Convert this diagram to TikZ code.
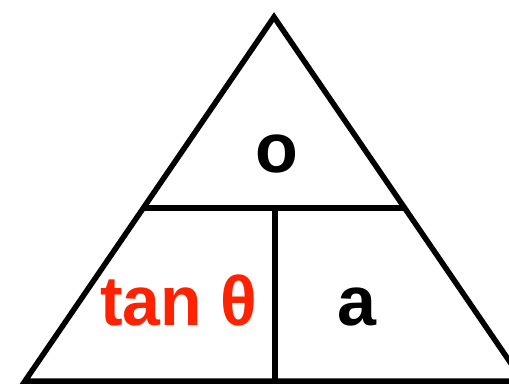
\documentclass[tikz,border=0pt]{standalone}
\usepackage{fontspec}
\setmainfont{Liberation Sans}
\definecolor{tanred}{RGB}{255,34,0}
\tikzset{
  edge/.style={line width=5.5pt, line join=miter, black},
  lbl/.style={font=\fontsize{70}{70}\selectfont\bfseries, inner sep=0pt, anchor=base}
}
\begin{document}
\begin{tikzpicture}[x=1pt,y=-1pt]
\useasboundingbox (0,0) rectangle (509,384);
\begin{scope}
\clip (0,0) rectangle (509,384);
\coordinate (apex) at (274,17);
\coordinate (bl) at (25,381);
\coordinate (br) at (523,381);
\coordinate (ml) at (143,208);
\coordinate (mr) at (405,208);
\coordinate (mt) at (275,208);
\coordinate (mb) at (275,381);
\draw[edge] (apex) -- (bl) -- (br) -- cycle;
\draw[edge] (ml) -- (mr);
\draw[edge] (mt) -- (mb);
\end{scope}
\node[lbl] (o) at (277,172) {o};
\node[lbl, text=tanred, xscale=0.97] (tan) at (179,325) {tan θ};
\node[lbl] (a) at (357,325) {a};
\end{tikzpicture}
\end{document}
